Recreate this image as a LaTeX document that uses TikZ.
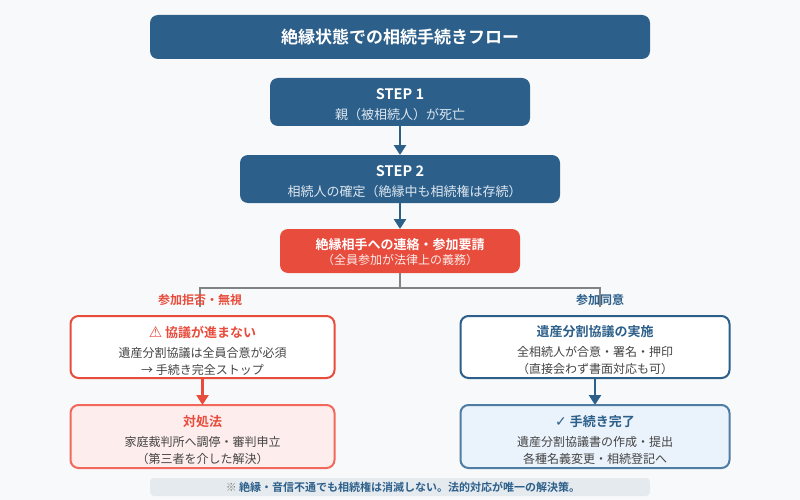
\documentclass[tikz,border=0pt]{standalone}
\usepackage{fontspec}
\setmainfont{Noto Sans CJK JP}[BoldFont={Noto Sans CJK JP Bold}]
\newfontfamily\symfont{DejaVu Sans}
\usetikzlibrary{arrows.meta,positioning,calc}

\definecolor{pagebg}{HTML}{F8F9FA}
\definecolor{navy}{HTML}{2C5F8A}
\definecolor{alert}{HTML}{E74C3C}
\definecolor{softred}{HTML}{FDEDEC}
\definecolor{softblue}{HTML}{EAF2FB}
\definecolor{softline}{HTML}{F0695C}
\definecolor{blueline}{HTML}{4F7CA3}
\definecolor{notebg}{HTML}{E5EAEF}
\definecolor{bodytext}{HTML}{444444}
\definecolor{subtext}{HTML}{DCE6EF}
\definecolor{forkline}{HTML}{7F8587}

\newcommand{\fs}[1]{\fontsize{#1}{#1}\selectfont}
\newcommand{\lift}[1]{\rule{0pt}{#1}}

\tikzset{
  box/.style={rectangle,rounded corners=8pt,inner sep=0pt,outer sep=0pt,align=center},
  headbox/.style={box,fill=navy,text=white,font=\fs{13}},
  warnbox/.style={box,fill=alert,text=white,font=\fs{13}},
  outbox/.style={box,line width=2pt,font=\fs{12},text=bodytext},
  flow/.style={line width=2.5pt,-{Triangle[width=12pt,length=10pt]}},
  fork/.style={line width=2pt,color=forkline},
  forklabel/.style={font=\fs{12}\bfseries,inner sep=0pt},
}

\begin{document}
\begin{tikzpicture}[x=1pt,y=-1pt]
    \useasboundingbox[fill=pagebg] (0,0) rectangle (800,500);

    \node[box,fill=navy,text=white,font=\fs{17}\bfseries,minimum width=500pt,minimum height=44pt] (title) at (400,37) {絶縁状態での相続手続きフロー};

    \node[headbox,minimum width=260pt,minimum height=48pt] (step1) at (400,102) {\lift{17pt}{\fs{14.5}\textbf{STEP 1}}\\[7pt]\textcolor{subtext}{親（被相続人）が死亡}};
    \node[headbox,minimum width=320pt,minimum height=48pt] (step2) at (400,179) {\lift{17pt}{\fs{14.5}\textbf{STEP 2}}\\[7pt]\hspace*{9pt}\textcolor{subtext}{相続人の確定（絶縁中も相続権は存続）}};
    \node[warnbox,minimum width=240pt,minimum height=44pt] (contact) at (400,251) {\lift{14pt}\textbf{絶縁相手への連絡・参加要請}\\[2pt]{\fs{12}\textcolor{softred}{（全員参加が法律上の義務）}}};

    \node[outbox,draw=alert,fill=white,minimum width=264pt,minimum height=62pt] (stuck) at (202.5,347) {\lift{18pt}{\fs{13}\bfseries\textcolor{alert}{{\symfont\fs{15}⚠} 協議が進まない}}\\[8pt]遺産分割協議は全員合意が必須\\[5pt]→ 手続き完全ストップ};
    \node[outbox,draw=navy,fill=white,minimum width=269pt,minimum height=62pt] (talks) at (595,347) {\lift{18pt}{\fs{13}\bfseries\textcolor{navy}{遺産分割協議の実施}}\\[8pt]全相続人が合意・署名・押印\\[5pt]（直接会わず書面対応も可）};
    \node[outbox,draw=softline,fill=softred,minimum width=264pt,minimum height=63pt] (remedy) at (202.5,436.5) {\lift{18pt}{\fs{13}\bfseries\textcolor{alert}{対処法}}\\[8pt]家庭裁判所へ調停・審判申立\\[5pt]（第三者を介した解決）};
    \node[outbox,draw=blueline,fill=softblue,minimum width=269pt,minimum height=63pt] (done) at (595,436.5) {\lift{18pt}{\fs{13}\bfseries\textcolor{navy}{{\symfont\fs{14}✓} 手続き完了}}\\[8pt]遺産分割協議書の作成・提出\\[5pt]各種名義変更・相続登記へ};

    \node[box,rounded corners=4pt,fill=notebg,text=navy,font=\fs{11},minimum width=500pt,minimum height=18pt] (note) at (400,487) {\hspace*{6pt}\textcolor{gray}{※} \textbf{絶縁・音信不通でも相続権は消滅しない。法的対応が唯一の解決策。}};

    \coordinate (refuseend) at (200,307);
    \coordinate (agreeend) at (600,307);

    \draw[flow,color=navy] (step1) -- (step2);
    \draw[flow,color=navy] (step2) -- (contact);
    \draw[fork] (contact.south) -- ++(0,15) -| (refuseend);
    \draw[fork] (contact.south) -- ++(0,15) -| (agreeend);
    \draw[flow,color=alert] (stuck) -- (remedy);
    \draw[flow,color=navy] (talks) -- (done);

    \node[forklabel,text=alert] (refuse) at (200,300) {参加拒否・無視};
    \node[forklabel,text=navy] (agree) at (600,300) {参加同意};
\end{tikzpicture}
\end{document}
